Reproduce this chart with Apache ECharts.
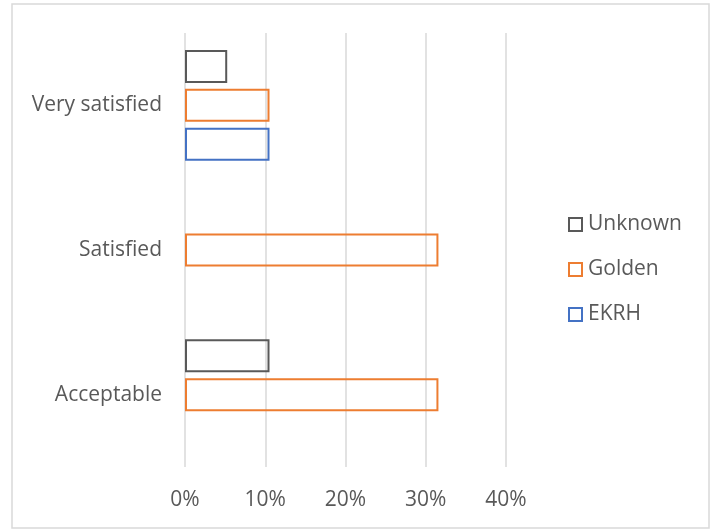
<!DOCTYPE html>
<html>
<head>
<meta charset="utf-8">
<script src="https://cdn.jsdelivr.net/npm/echarts@6/dist/echarts.min.js"></script>
<style>
  html, body { margin: 0; padding: 0; background: #fff; }
  #chart { width: 717px; height: 529px; }
</style>
</head>
<body>
<div id="chart"></div>
<script>
// Satisfaction levels, bottom to top
const categories = ['Acceptable', 'Satisfied', 'Very satisfied'];
// Share of responses per group (percent); null = no responses
const ekrh = [null, null, 10.53];
const golden = [31.58, 31.58, 10.53];
const unknown = [10.53, null, 5.26];
const xTicks = [0, 10, 20, 30, 40];

const FONT = 'Open Sans';
const TEXT = '#595959';
const FS = 21;

function outlined(name, data, color) {
  return {
    name: name,
    type: 'bar',
    data: data,
    barWidth: 33,
    barGap: '18%',
    itemStyle: { color: 'rgba(255,255,255,0)', borderColor: color, borderWidth: 2 },
    emphasis: { disabled: true }
  };
}

const chart = echarts.init(document.getElementById('chart'));
chart.setOption({
  animation: false,
  textStyle: { fontFamily: FONT },
  graphic: [{
    type: 'rect',
    shape: { x: 12, y: 4, width: 697, height: 524 },
    style: { fill: 'none', stroke: '#d9d9d9', lineWidth: 1.5 },
    silent: true
  }],
  grid: { left: 185, top: 33, width: 321, height: 434, containLabel: false },
  xAxis: {
    type: 'value',
    min: xTicks[0],
    max: xTicks[xTicks.length - 1],
    interval: 10,
    axisLine: { show: false },
    axisTick: { show: false },
    splitLine: { lineStyle: { color: '#d9d9d9', width: 1.5 } },
    axisLabel: { formatter: '{value}%', color: TEXT, fontSize: FS, margin: 23, fontFamily: FONT }
  },
  yAxis: {
    type: 'category',
    data: categories,
    axisLine: { show: false },
    axisTick: { show: false },
    axisLabel: { color: TEXT, fontSize: FS, margin: 23, fontFamily: FONT, padding: [8, 0, 0, 0] }
  },
  legend: {
    orient: 'vertical',
    left: 568,
    top: 214,
    padding: 0,
    itemWidth: 13,
    itemHeight: 13,
    itemGap: 24,
    icon: 'rect',
    data: ['Unknown', 'Golden', 'EKRH'],
    textStyle: { color: TEXT, fontSize: FS, fontFamily: FONT, padding: [0, 0, 0, 1] }
  },
  series: [
    outlined('Unknown', unknown, '#595959'),
    outlined('Golden', golden, '#ED7D31'),
    outlined('EKRH', ekrh, '#4472C4')
  ]
});
</script>
</body>
</html>
